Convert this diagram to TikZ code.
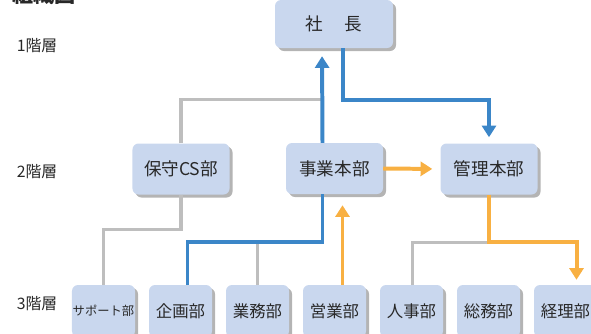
\documentclass[tikz,border=0pt]{standalone}
\usepackage{fontspec}
\setmainfont{Noto Sans CJK JP}
\usepackage{xcolor}
\definecolor{orgbox}{RGB}{201,215,238}
\definecolor{orgshadow}{RGB}{180,180,180}
\definecolor{orgblue}{RGB}{59,134,200}
\definecolor{orgorange}{RGB}{248,176,66}
\definecolor{orggray}{RGB}{190,190,190}
\definecolor{orgtext}{RGB}{40,40,40}
\usetikzlibrary{arrows.meta,positioning,calc,shadows}

\begin{document}
\begin{tikzpicture}[x=0.03cm, y=-0.03cm,
  unitbox/.style={fill=orgbox, rounded corners=0.18cm, inner sep=0pt, text=orgtext,
    drop shadow={shadow xshift=0.09cm, shadow yshift=-0.09cm, fill=orgshadow, opacity=1}},
  topbox/.style={unitbox, minimum width=3.54cm, minimum height=1.44cm, font=\fontsize{15}{18}\selectfont},
  midbox/.style={unitbox, minimum width=2.91cm, minimum height=1.53cm, font=\fontsize{15}{18}\selectfont},
  lowbox/.style={unitbox, minimum width=1.89cm, minimum height=1.56cm, font=\fontsize{14}{17}\selectfont},
  level/.style={text=orgtext, font=\fontsize{13.5}{16}\selectfont},
  grayline/.style={draw=orggray, line width=2.6pt},
  blueline/.style={draw=orgblue, line width=3.4pt},
  orangeline/.style={draw=orgorange, line width=3.4pt},
  tip/.style={-{Triangle[width=12pt, length=10pt]}}]
  \clip (0,0) rectangle (591,333);

  % Title
  \node[anchor=base west, inner sep=0pt, text=orgtext, font=\fontsize{18}{20}\selectfont\bfseries] (title) at (12,2) {組織図};

  % Level labels
  \node[level] (lv1) at (37,46) {1階層};
  \node[level] (lv2) at (37,172) {2階層};
  \node[level] (lv3) at (37,304) {3階層};

  % Level 1
  \node[topbox] (pres) at (334,24) {社\hspace{1.2em}長};

  % Level 2
  \node[midbox] (hoshu) at (181,169) {保守CS部};
  \node[midbox] (jigyo) at (334.5,168.5) {事業本部};
  \node[midbox] (kanri) at (489,169) {管理本部};

  % Level 3
  \node[lowbox, font=\fontsize{10.5}{12}\selectfont] (support) at (103.5,311) {サポート部};
  \node[lowbox] (kikaku) at (180.5,311) {企画部};
  \node[lowbox] (gyomu) at (257.5,311) {業務部};
  \node[lowbox] (eigyo) at (334.5,311) {営業部};
  \node[lowbox] (jinji) at (411.5,311) {人事部};
  \node[lowbox] (somu) at (488.5,311) {総務部};
  \node[lowbox] (keiri) at (565.5,311) {経理部};

  % Bus points
  \coordinate (upbus) at ($(jigyo.north)+(-12,-43)$);
  \coordinate (leftbus) at ($(jigyo.south)+(-12,48)$);
  \coordinate (rightbus) at ($(kanri.south)+(0,48)$);

  % Gray connectors
  \draw[grayline] (hoshu.north) |- (upbus);
  \draw[grayline] (hoshu.south) |- ($(support.north)+(0,-55)$) -- (support.north);
  \draw[grayline] (gyomu.north) -- (gyomu.north |- leftbus);
  \draw[grayline] ($(jinji.north)+(1,0)$) |- (rightbus);

  % Blue connectors
  \draw[blueline, tip, shorten >=0.24cm] ($(jigyo.north)+(-12,0)$) -- ($(pres.south)+(-12,0)$);
  \draw[blueline, tip, shorten >=0.18cm] ($(pres.south)+(9,0)$) |- ($(kanri.north)+(0,-43)$) -- (kanri.north);
  \draw[blueline] ($(jigyo.south)+(-12,0)$) |- ($(kikaku.north)+(7,-43)$) -- ($(kikaku.north)+(7,0)$);

  % Orange connectors
  \draw[orangeline, tip, shorten >=0.24cm] (jigyo.east) -- (kanri.west);
  \draw[orangeline, tip, shorten >=0.33cm] ($(eigyo.north)+(8,0)$) -- ($(jigyo.south)+(8,0)$);
  \draw[orangeline, tip, shorten >=0.15cm] (kanri.south) |- ($(keiri.north)+(11,-43)$) -- ($(keiri.north)+(11,0)$);
\end{tikzpicture}
\end{document}
